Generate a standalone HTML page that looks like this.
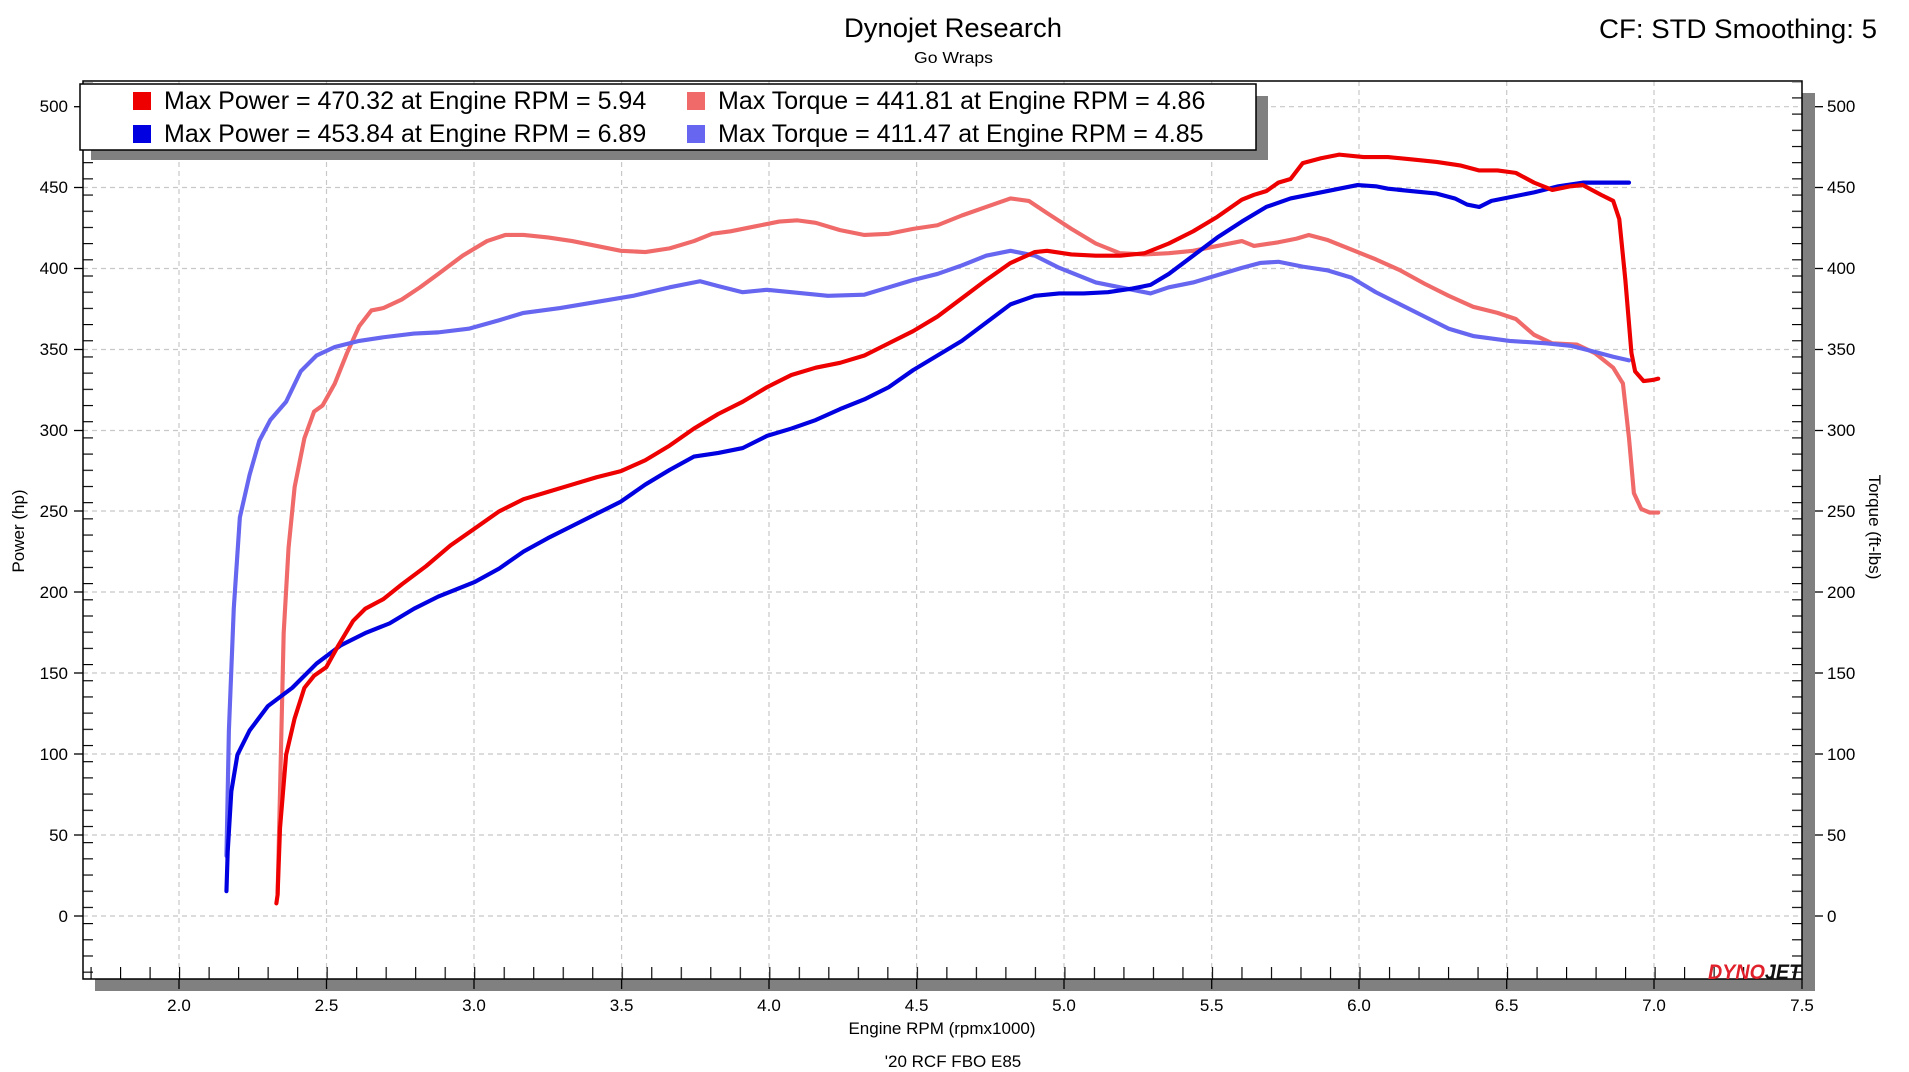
<!DOCTYPE html>
<html><head><meta charset="utf-8"><style>
html,body{margin:0;padding:0;background:#fff;}
svg{display:block;font-family:"Liberation Sans","DejaVu Sans",sans-serif;}
</style></head><body>
<svg width="1909" height="1072" viewBox="0 0 1909 1072" xmlns="http://www.w3.org/2000/svg">
<defs>
<pattern id="xt" patternUnits="userSpaceOnUse" x="90.5" y="967" width="29.51" height="12"><line x1="0.5" y1="0" x2="0.5" y2="12" stroke="#000" stroke-width="1.3"/></pattern>
<pattern id="ylt" patternUnits="userSpaceOnUse" x="83" y="0.2" width="12" height="16.19"><line x1="0" y1="0.5" x2="10" y2="0.5" stroke="#000" stroke-width="1.3"/></pattern>
<pattern id="yrt" patternUnits="userSpaceOnUse" x="1792" y="0.2" width="10" height="16.19"><line x1="0" y1="0.5" x2="10" y2="0.5" stroke="#000" stroke-width="1.3"/></pattern>
</defs>
<rect width="1909" height="1072" fill="#fff"/>
<rect x="95" y="979" width="1720" height="12" fill="#808080"/>
<rect x="1802" y="93" width="13" height="898" fill="#808080"/>
<g stroke="#c8c8c8" stroke-width="1.2" stroke-dasharray="5,4">
<line x1="179" y1="81" x2="179" y2="979"/><line x1="326.5" y1="81" x2="326.5" y2="979"/><line x1="474" y1="81" x2="474" y2="979"/><line x1="621.6" y1="81" x2="621.6" y2="979"/><line x1="769" y1="81" x2="769" y2="979"/><line x1="916.6" y1="81" x2="916.6" y2="979"/><line x1="1064" y1="81" x2="1064" y2="979"/><line x1="1211.7" y1="81" x2="1211.7" y2="979"/><line x1="1359" y1="81" x2="1359" y2="979"/><line x1="1506.7" y1="81" x2="1506.7" y2="979"/><line x1="1654" y1="81" x2="1654" y2="979"/>
<line x1="83" y1="916" x2="1802" y2="916"/><line x1="83" y1="835" x2="1802" y2="835"/><line x1="83" y1="754" x2="1802" y2="754"/><line x1="83" y1="673" x2="1802" y2="673"/><line x1="83" y1="592" x2="1802" y2="592"/><line x1="83" y1="511" x2="1802" y2="511"/><line x1="83" y1="430.5" x2="1802" y2="430.5"/><line x1="83" y1="349.5" x2="1802" y2="349.5"/><line x1="83" y1="268.5" x2="1802" y2="268.5"/><line x1="83" y1="187.5" x2="1802" y2="187.5"/><line x1="83" y1="106.7" x2="1802" y2="106.7"/>
</g>
<rect x="83" y="967" width="1719" height="12" fill="url(#xt)"/>
<rect x="83" y="82" width="12" height="896" fill="url(#ylt)"/>
<rect x="1792" y="82" width="10" height="896" fill="url(#yrt)"/>
<g stroke="#000" stroke-width="1.3">
<line x1="179" y1="979" x2="179" y2="989"/><line x1="326.5" y1="979" x2="326.5" y2="989"/><line x1="474" y1="979" x2="474" y2="989"/><line x1="621.6" y1="979" x2="621.6" y2="989"/><line x1="769" y1="979" x2="769" y2="989"/><line x1="916.6" y1="979" x2="916.6" y2="989"/><line x1="1064" y1="979" x2="1064" y2="989"/><line x1="1211.7" y1="979" x2="1211.7" y2="989"/><line x1="1359" y1="979" x2="1359" y2="989"/><line x1="1506.7" y1="979" x2="1506.7" y2="989"/><line x1="1654" y1="979" x2="1654" y2="989"/><line x1="1802" y1="979" x2="1802" y2="989"/>
<line x1="74" y1="916" x2="83" y2="916"/><line x1="74" y1="835" x2="83" y2="835"/><line x1="74" y1="754" x2="83" y2="754"/><line x1="74" y1="673" x2="83" y2="673"/><line x1="74" y1="592" x2="83" y2="592"/><line x1="74" y1="511" x2="83" y2="511"/><line x1="74" y1="430.5" x2="83" y2="430.5"/><line x1="74" y1="349.5" x2="83" y2="349.5"/><line x1="74" y1="268.5" x2="83" y2="268.5"/><line x1="74" y1="187.5" x2="83" y2="187.5"/><line x1="74" y1="106.7" x2="83" y2="106.7"/>
<line x1="1815" y1="916" x2="1823" y2="916"/><line x1="1815" y1="835" x2="1823" y2="835"/><line x1="1815" y1="754" x2="1823" y2="754"/><line x1="1815" y1="673" x2="1823" y2="673"/><line x1="1815" y1="592" x2="1823" y2="592"/><line x1="1815" y1="511" x2="1823" y2="511"/><line x1="1815" y1="430.5" x2="1823" y2="430.5"/><line x1="1815" y1="349.5" x2="1823" y2="349.5"/><line x1="1815" y1="268.5" x2="1823" y2="268.5"/><line x1="1815" y1="187.5" x2="1823" y2="187.5"/><line x1="1815" y1="106.7" x2="1823" y2="106.7"/>
</g>
<rect x="83" y="81" width="1719" height="898" fill="none" stroke="#000" stroke-width="1.5"/>
<g font-size="17" fill="#000" text-anchor="end">
<text x="68" y="922">0</text><text x="68" y="841">50</text><text x="68" y="760">100</text><text x="68" y="679">150</text><text x="68" y="598">200</text><text x="68" y="517">250</text><text x="68" y="436">300</text><text x="68" y="355">350</text><text x="68" y="274">400</text><text x="68" y="193">450</text><text x="68" y="112">500</text>
</g>
<g font-size="17" fill="#000" text-anchor="start">
<text x="1827" y="922">0</text><text x="1827" y="841">50</text><text x="1827" y="760">100</text><text x="1827" y="679">150</text><text x="1827" y="598">200</text><text x="1827" y="517">250</text><text x="1827" y="436">300</text><text x="1827" y="355">350</text><text x="1827" y="274">400</text><text x="1827" y="193">450</text><text x="1827" y="112">500</text>
</g>
<g font-size="17" fill="#000" text-anchor="middle">
<text x="179" y="1011">2.0</text><text x="326.5" y="1011">2.5</text><text x="474" y="1011">3.0</text><text x="621.6" y="1011">3.5</text><text x="769" y="1011">4.0</text><text x="916.6" y="1011">4.5</text><text x="1064" y="1011">5.0</text><text x="1211.7" y="1011">5.5</text><text x="1359" y="1011">6.0</text><text x="1506.7" y="1011">6.5</text><text x="1654" y="1011">7.0</text><text x="1802" y="1011">7.5</text>
<text x="942" y="1034">Engine RPM (rpmx1000)</text>
<text x="953" y="1067">'20 RCF FBO E85</text>
</g>
<text x="844" y="37" font-size="27" textLength="218" lengthAdjust="spacingAndGlyphs">Dynojet Research</text>
<text x="914" y="63" font-size="16" textLength="79" lengthAdjust="spacingAndGlyphs">Go Wraps</text>
<text x="1599" y="38" font-size="27" textLength="278" lengthAdjust="spacingAndGlyphs">CF: STD Smoothing: 5</text>
<text transform="translate(24,531) rotate(-90)" font-size="17" text-anchor="middle">Power (hp)</text>
<text transform="translate(1869,527) rotate(90)" font-size="17" text-anchor="middle">Torque (ft-lbs)</text>
<text x="1708" y="979" font-size="21" font-weight="bold" font-style="italic" fill="#e0202a" textLength="93" lengthAdjust="spacingAndGlyphs">DYNO<tspan fill="#111">JET</tspan></text>
<g transform="scale(1.2175)" fill="none" stroke-width="3.4" stroke-linejoin="round" stroke-linecap="round">
<polyline stroke="#f06a6a" points="228,735 230,650 233,520 237,450 242,400 250,360 258,338 265,333 275,315 285,290 295,268 305,255 315,253 330,246 345,236 360,225 380,210 400,198 415,193 430,193 450,195 470,198 490,202 510,206 530,207 550,204 570,198 585,192 600,190 620,186 640,182 655,181 670,183 690,189 710,193 730,192 750,188 770,185 790,177 810,170 830,163 845,165 860,175 880,188 900,200 920,208 940,209 960,208 980,206 1000,202 1020,198 1030,202 1050,199 1065,196 1075,193 1090,197 1110,205 1130,213 1150,222 1170,233 1190,243 1210,252 1230,257 1245,262 1260,275 1275,282 1295,283 1310,290 1325,302 1333,315 1338,360 1342,405 1348,418 1355,421 1362,421"/>
<polyline stroke="#6666f0" points="186,703 188,600 192,500 197,425 205,390 213,362 222,345 235,330 247,305 260,292 275,285 295,280 315,277 340,274 360,273 385,270 410,263 430,257 460,253 490,248 520,243 550,236 575,231 590,235 610,240 630,238 650,240 680,243 710,242 730,236 750,230 770,225 790,218 810,210 830,206 850,210 870,220 900,232 920,236 945,241 960,236 980,232 1000,226 1020,220 1035,216 1050,215 1070,219 1090,222 1110,228 1130,240 1150,250 1170,260 1190,270 1210,276 1240,280 1270,282 1290,284 1310,289 1325,293 1338,296"/>
<polyline stroke="#0000e0" points="186,732 187,700 190,650 195,620 205,600 220,580 240,565 260,545 280,530 300,520 320,512 340,500 360,490 390,478 410,467 430,453 450,442 470,432 490,422 510,412 530,398 550,386 570,375 590,372 610,368 630,358 650,352 670,345 690,336 710,328 730,318 750,304 770,292 790,280 810,265 830,250 850,243 870,241 890,241 910,240 930,237 945,234 960,225 980,210 1000,195 1020,182 1040,170 1060,163 1080,159 1100,155 1115,152 1130,153 1140,155 1160,157 1180,159 1195,163 1205,168 1215,170 1225,165 1240,162 1260,158 1280,153 1300,150 1320,150 1338,150"/>
<polyline stroke="#ee0000" points="227,742 228,735 230,680 235,620 242,590 250,565 258,555 268,548 278,530 290,510 300,500 315,492 330,480 350,465 370,448 390,434 410,420 430,410 450,404 470,398 490,392 510,387 530,378 550,366 570,352 590,340 610,330 630,318 650,308 670,302 690,298 710,292 730,282 750,272 770,260 790,245 810,230 830,216 850,207 860,206 880,209 900,210 920,210 940,208 960,200 980,190 1000,178 1020,164 1030,160 1040,157 1050,150 1060,147 1070,134 1085,130 1100,127 1120,129 1140,129 1160,131 1180,133 1200,136 1215,140 1230,140 1245,142 1260,150 1275,156 1290,153 1300,152 1315,160 1325,165 1330,180 1335,230 1340,290 1343,305 1350,313 1358,312 1362,311"/>
</g>
<rect x="91" y="96" width="1177" height="64" fill="#808080"/>
<rect x="80" y="84" width="1176" height="66" fill="#fff" stroke="#000" stroke-width="1.5"/>
<rect x="133" y="92" width="18" height="18" fill="#ee0000"/>
<rect x="133" y="125" width="18" height="18" fill="#0000e0"/>
<rect x="687" y="92" width="18" height="18" fill="#f06a6a"/>
<rect x="687" y="125" width="18" height="18" fill="#6666f0"/>
<g font-size="25" fill="#000">
<text x="164" y="109">Max Power = 470.32 at Engine RPM = 5.94</text>
<text x="164" y="142">Max Power = 453.84 at Engine RPM = 6.89</text>
<text x="718" y="109">Max Torque = 441.81 at Engine RPM = 4.86</text>
<text x="718" y="142">Max Torque = 411.47 at Engine RPM = 4.85</text>
</g>
</svg>
</body></html>
